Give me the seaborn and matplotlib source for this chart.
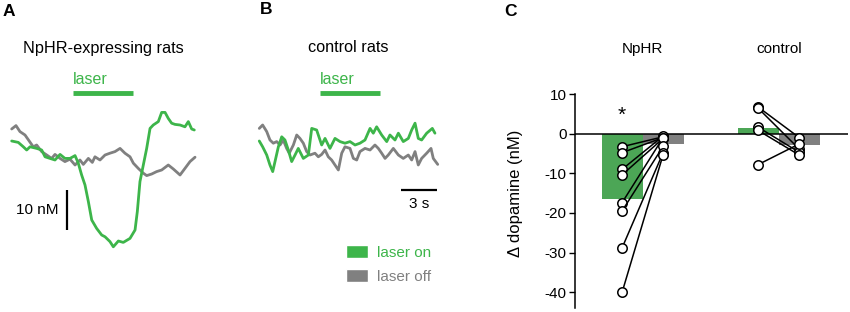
import numpy as np
import pandas as pd
import matplotlib.pyplot as plt
import seaborn as sns
from matplotlib.patches import Patch

GREEN = '#3db54a'
GRAY = '#808080'

#%% data
# A: NpHR rats, time (s) from laser onset, dopamine (nM)
a_on_t = [-5.11, -4.56, -4.14, -3.86, -3.58, -3.03, -2.61, -2.33, -1.92, -1.5, -1.08, -0.67, -0.25, 0.17,
          0.44, 0.72, 1.0, 1.28, 1.56, 1.97, 2.39, 2.67, 3.08, 3.36, 3.78, 4.19, 4.75, 5.17, 5.36, 5.58,
          5.86, 6.14, 6.42, 6.69, 7.11, 7.39, 7.67, 7.94, 8.22, 8.5, 8.92, 9.33, 9.61, 9.89, 10.11]
a_on_nm = [4.75, 4.4, 3.3, 2.5, 3.3, 2.9, 2.5, 0.8, 0.4, 0.0, 1.4, 0.4, 0.4, 1.1,
           -0.8, -3.75, -6.25, -10.4, -15.0, -17.1, -18.75, -19.2, -20.4, -21.7, -20.25, -20.6, -19.6, -17.5, -12.9, -5.4,
           -1.25, 2.9, 7.9, 8.75, 9.6, 11.9, 11.9, 10.4, 9.2, 8.9, 8.75, 8.3, 9.6, 7.75, 7.5]
a_off_t = [-5.11, -4.75, -4.42, -4.0, -3.31, -3.03, -2.61, -2.19, -1.78, -1.5, -1.08, -0.67, -0.25, 0.17,
           0.58, 0.86, 1.28, 1.61, 1.83, 2.25, 2.67, 3.08, 3.5, 3.92, 4.33, 4.75, 5.03, 5.44, 5.86, 6.14,
           6.56, 6.97, 7.39, 7.94, 8.36, 8.92, 9.33, 9.75, 10.17]
a_off_nm = [7.75, 8.6, 7.1, 6.25, 3.3, 3.75, 2.1, 1.25, 0.4, 1.4, 0.4, -0.4, 0.2, -1.25,
            0.0, -1.1, 0.4, -0.6, 0.8, 0.0, 1.25, 1.7, 2.1, 2.9, 1.7, 0.8, -0.8, -2.1, -3.3, -3.9,
            -3.5, -2.9, -2.5, -1.25, -2.25, -3.75, -2.1, -0.4, 0.7]

# B: control rats
b_on_t = [-5.06, -4.78, -4.44, -4.17, -3.94, -3.75, -3.47, -3.19, -2.92, -2.64, -2.36, -2.08, -1.81, -1.39,
          -0.97, -0.69, -0.28, 0.14, 0.42, 0.83, 1.25, 1.67, 2.08, 2.5, 2.92, 3.33, 3.75, 4.17, 4.44, 4.72,
          5.14, 5.56, 5.83, 6.25, 6.53, 6.94, 7.36, 7.64, 7.92, 8.19, 8.47, 8.89, 9.36, 9.58]
b_on_nm = [4.75, 3.3, 1.25, -1.25, -2.9, -0.4, 3.3, 5.8, 5.0, 2.5, -0.4, 1.25, 2.9, 0.4,
           1.25, 7.9, 7.5, 3.75, 5.4, 2.9, 5.4, 4.6, 4.2, 4.6, 3.75, 4.2, 5.0, 7.9, 6.7, 8.3,
           6.25, 4.6, 6.25, 5.0, 6.7, 4.6, 5.4, 7.5, 9.2, 5.4, 5.0, 6.7, 7.9, 6.7]
b_off_t = [-5.06, -4.78, -4.44, -4.17, -3.89, -3.61, -3.33, -3.06, -2.78, -2.56, -2.22, -1.94, -1.67, -1.39,
           -1.11, -0.83, -0.42, -0.14, 0.14, 0.42, 0.69, 0.97, 1.25, 1.53, 1.81, 2.08, 2.5, 2.78, 3.06, 3.33,
           3.75, 4.17, 4.58, 4.86, 5.14, 5.42, 5.69, 6.11, 6.53, 6.94, 7.36, 7.64, 7.92, 8.19, 8.47, 8.89,
           9.25, 9.44, 9.81]
b_off_nm = [7.9, 8.75, 7.1, 5.0, 4.2, 4.6, 3.75, 5.0, 2.9, 1.7, 3.75, 6.25, 5.4, 4.2,
            2.1, 1.25, 1.7, 0.8, 1.4, 2.5, 0.8, 0.0, -1.25, -2.5, 1.7, 3.3, 2.9, 0.4, 0.0, 2.1,
            2.9, 2.5, 3.75, 2.9, 1.7, 0.4, 1.25, 2.9, 1.25, 0.4, 1.25, 0.0, 2.1, -1.25, 0.4, 1.7,
            2.9, 0.4, -1.1]

laser_window = [0, 5]   # s

# C: change in dopamine per rat
groups = ['NpHR', 'control']
np_on = [-3.3, -4.8, -9.0, -10.4, -17.4, -19.5, -28.8, -40.0]
np_off = [-0.8, -1.0, -0.6, -1.2, -1.0, -3.2, -4.8, -5.3]
ct_on = [6.7, 6.4, 1.6, 0.8, -7.8]
ct_off = [-1.0, -3.9, -4.7, -5.4, -2.6]
bar_laser = ['on', 'off', 'on', 'off']
bar_means = [-16.5, -2.5, 1.5, -2.9]
bar_pos = [0, 1, 3.32, 4.32]

#%% style
sns.set_theme(style='white')
plt.rcParams['font.family'] = ['Liberation Sans', 'DejaVu Sans']
plt.rcParams['axes.unicode_minus'] = False
plt.rcParams['text.color'] = 'black'
plt.rcParams['axes.labelcolor'] = 'black'
plt.rcParams['ytick.color'] = 'black'
FS = 11

fig = plt.figure(figsize=(8.5, 3.12), dpi=100)
W, H = 850, 312


def px_axes(x0, y0, x1, y1):
    return fig.add_axes([x0 / W, 1 - y1 / H, (x1 - x0) / W, (y1 - y0) / H])


def fig_txt(x, y, s, **kw):
    fig.text(x / W, 1 - y / H, s, **kw)


pal = {'on': GREEN, 'off': GRAY}

#%% A and B traces
for ax_box, xlim, on_t, on_nm, off_t, off_nm in [
        ((0, 60, 210, 290), (-73 / 12, 137 / 12), a_on_t, a_on_nm, a_off_t, a_off_nm),
        ((220, 60, 460, 290), (-100 / 12, 140 / 12), b_on_t, b_on_nm, b_off_t, b_off_nm)]:
    ax = px_axes(*ax_box)
    df_tr = pd.concat([
        pd.DataFrame({'t': off_t, 'nM': off_nm, 'laser': 'off'}),
        pd.DataFrame({'t': on_t, 'nM': on_nm, 'laser': 'on'})])
    sns.lineplot(data=df_tr, x='t', y='nM', hue='laser', palette=pal, estimator=None,
                 sort=False, linewidth=2.0, legend=False, ax=ax)
    ax.plot(laser_window, [16.75, 16.75], color=GREEN, lw=3.5, solid_capstyle='butt')
    ax.text(laser_window[0], 20, 'laser', color=GREEN, fontsize=11.5, ha='left', va='center')
    ax.set_xlim(*xlim)
    ax.set_ylim(-32.5, 25)
    ax.axis('off')
    if ax_box[0] == 0:
        axA = ax
    else:
        axB = ax

# scale bars
axA.plot([-0.5, -0.5], [-7.5, -17.5], color='black', lw=1.6, solid_capstyle='butt')
axA.text(-1.25, -12.5, '10 nM', fontsize=FS, ha='right', va='center')
axB.plot([6.75, 9.75], [-7.5, -7.5], color='black', lw=1.6, solid_capstyle='butt')
axB.text(8.25, -11, '3 s', fontsize=FS, ha='center', va='center')

axB.legend(handles=[Patch(facecolor=GREEN, label='laser on'), Patch(facecolor=GRAY, label='laser off')],
           loc='upper left', bbox_to_anchor=(346 / W, 1 - 245 / H), bbox_transform=fig.transFigure,
           frameon=False, borderpad=0, borderaxespad=0, handlelength=1.45, handleheight=0.9,
           handletextpad=0.6, labelspacing=0.62, labelcolor=[GREEN, GRAY], fontsize=FS)

#%% C bars + individual rats
axC = px_axes(575, 94, 848, 308)
df_bar = pd.DataFrame({'pos': bar_pos, 'delta': bar_means, 'laser': bar_laser})
sns.barplot(data=df_bar, x='pos', y='delta', hue='laser', palette=pal, native_scale=True,
            dodge=False, width=1, errorbar=None, linewidth=0, legend=False, ax=axC)

rows = []
for i, (on, off) in enumerate(zip(np_on, np_off)):
    rows += [(f'n{i}', bar_pos[0], on), (f'n{i}', bar_pos[1], off)]
for i, (on, off) in enumerate(zip(ct_on, ct_off)):
    rows += [(f'c{i}', bar_pos[2], on), (f'c{i}', bar_pos[3], off)]
df_pts = pd.DataFrame(rows, columns=['rat', 'pos', 'delta'])
sns.lineplot(data=df_pts, x='pos', y='delta', units='rat', estimator=None, color='black',
             marker='o', markersize=6.8, markerfacecolor='white', markeredgecolor='black',
             markeredgewidth=1.1, linewidth=1.1, legend=False, zorder=4, ax=axC)

axC.axhline(0, color='black', lw=1.1, zorder=3)
axC.text(bar_pos[0], 4.5, '*', fontsize=15, ha='center', va='center')
axC.text(np.mean(bar_pos[:2]), 21.4, groups[0], fontsize=FS, ha='center', va='center', clip_on=False)
axC.text(np.mean(bar_pos[2:]), 21.4, groups[1], fontsize=FS, ha='center', va='center', clip_on=False)

axC.set_xlim(-1.15, 5.51)
axC.set_ylim(-44, 10)
axC.set_yticks([10, 0, -10, -20, -30, -40])
axC.tick_params(axis='y', left=True, direction='out', length=4, width=1, pad=2, labelsize=FS)
axC.set_xticks([])
axC.set_xlabel('')
axC.set_ylabel('\u0394 dopamine (nM)', fontsize=12)
axC.yaxis.set_label_coords(-0.19, 0.537)
for s in ['top', 'right', 'bottom']:
    axC.spines[s].set_visible(False)
axC.spines['left'].set_color('black')
axC.spines['left'].set_linewidth(1.1)

#%% titles and panel letters
fig_txt(103, 48, 'NpHR-expressing rats', fontsize=11.7, ha='center', va='center')
fig_txt(348, 48, 'control rats', fontsize=11.7, ha='center', va='center')
fig_txt(3, 12, 'A', fontsize=12.5, fontweight='bold', ha='left', va='center')
fig_txt(260, 10, 'B', fontsize=12.5, fontweight='bold', ha='left', va='center')
fig_txt(504, 11, 'C', fontsize=12.5, fontweight='bold', ha='left', va='center')

fig.savefig('out.png', dpi=100)
